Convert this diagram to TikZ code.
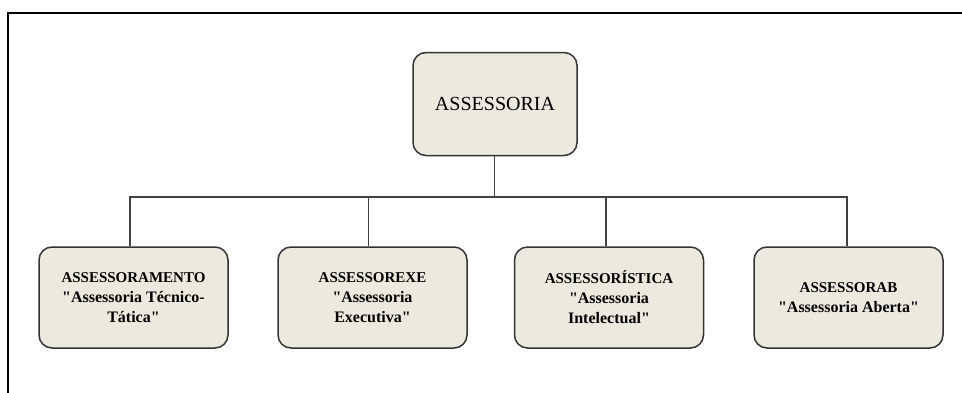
\documentclass[tikz,border=0pt]{standalone}
\usepackage{fontspec}
\setmainfont{Liberation Serif}[Ligatures=TeXOff]
\definecolor{boxfill}{HTML}{ECE9DF}
\definecolor{boxline}{HTML}{333333}
\newcommand{\qsize}{\fontsize{16}{20}\selectfont}
\begin{document}
\begin{tikzpicture}[x=1pt,y=-1pt,
  box/.style={draw=boxline,fill=boxfill,line width=1.5pt,rounded corners=13pt,align=center,inner sep=0pt},
  topbox/.style={box,minimum width=164pt,minimum height=103pt,font=\fontsize{20}{24}\selectfont},
  subbox/.style={box,minimum width=189pt,minimum height=101pt,font=\fontsize{15}{20}\selectfont\bfseries},
  conn/.style={draw=black!75,line width=1.3pt}]
\useasboundingbox (0,0) rectangle (962,392);
\draw[line width=2pt] (8,395) -- (8,13) -- (965,13);
\node[topbox] (root) at (495,104) {ASSESSORIA};
\node[subbox] (b1) at (133.5,297.5) {ASSESSORAMENTO\\\qsize"Assessoria Técnico-\\\qsize Tática"};
\node[subbox] (b2) at (372.5,297.5) {ASSESSOREXE\\\qsize"Assessoria\\\qsize Executiva"};
\node[subbox] (b3) at (609,297.5) {ASSESSORÍSTICA\\\qsize"Assessoria\\\qsize Intelectual"};
\node[subbox] (b4) at (848.5,297.5) {ASSESSORAB\\\qsize"Assessoria Aberta"};
\coordinate (bus) at (494.5,197);
\coordinate (p1) at ([xshift=-3.5pt]b1.north);
\coordinate (p2) at ([xshift=-4pt]b2.north);
\coordinate (p3) at ([xshift=-3pt]b3.north);
\coordinate (p4) at ([xshift=-1.5pt]b4.north);
\draw[conn] (root.south -| bus) -- (bus);
\draw[conn] (p1) -- (p1 |- bus) -- (p4 |- bus) -- (p4);
\draw[conn] (p2) -- (p2 |- bus);
\draw[conn] (p3) -- (p3 |- bus);
\end{tikzpicture}
\end{document}
